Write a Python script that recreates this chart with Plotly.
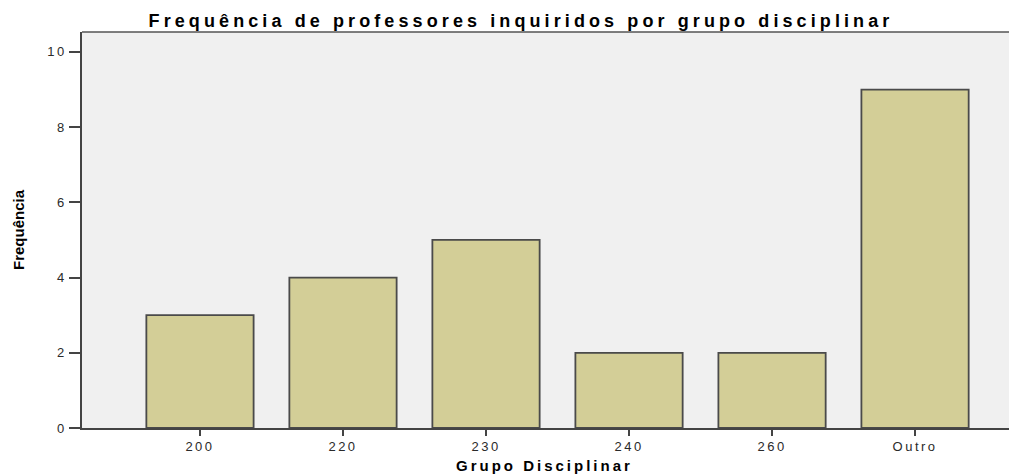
import plotly.graph_objects as go

categories = ["200", "220", "230", "240", "260", "Outro"]
frequencies = [3, 4, 5, 2, 2, 9]
y_ticks = [0, 2, 4, 6, 8, 10]

# page body has an 8px margin; positions below are figure pixels
W, H = 1001, 466
ML, MR, MT, MB = 74, 0, 24, 46


def spaced(s, px):
    return f'<span style="letter-spacing:{px}px">{s}</span>'


fig = go.Figure()
fig.add_trace(go.Bar(
    x=list(range(len(categories))),
    y=frequencies,
    width=0.75,
    marker=dict(color="#D3CE97", line=dict(color="#4A4A4A", width=1.8)),
    hoverinfo="skip",
))

tickfont = dict(family="Liberation Sans, Arial", size=13, color="#2A2A2A")

fig.update_layout(
    width=W, height=H,
    margin=dict(l=ML, r=MR, t=MT, b=MB, pad=0),
    paper_bgcolor="white",
    plot_bgcolor="#F0F0F0",
    showlegend=False,
    title=dict(
        text="<b>" + spaced("Frequência de professores inquiridos por grupo disciplinar", 4.1) + "</b>",
        font=dict(family="Liberation Sans, Arial", size=18, color="black"),
        x=513 / W, xanchor="center",
        y=1 - 13 / H, yanchor="middle",
    ),
    xaxis=dict(
        tickmode="array",
        tickvals=list(range(len(categories))),
        ticktext=[spaced(c, 2.5) for c in categories],
        range=[-0.825, 5.657],
        showgrid=False, zeroline=False,
        showline=True, linecolor="#444444", linewidth=1.5,
        ticks="outside", ticklen=6, tickwidth=1.5, tickcolor="#444444",
        tickfont=tickfont,
    ),
    yaxis=dict(
        range=[0, 10.53],
        tickmode="array",
        tickvals=y_ticks,
        ticktext=[spaced(str(v), 2.5) for v in y_ticks],
        showgrid=False, zeroline=False,
        showline=True, linecolor="#444444", linewidth=1.5,
        ticks="outside", ticklen=11, tickwidth=1.5, tickcolor="#444444",
        tickfont=tickfont,
    ),
    shapes=[
        dict(type="line", xref="paper", yref="paper", x0=0, x1=1, y0=1, y1=1,
             line=dict(color="#555555", width=1.5)),
    ],
    annotations=[
        dict(text="<b>" + spaced("Grupo Disciplinar", 3) + "</b>", xref="paper", yref="paper",
             x=(536 - ML) / (W - ML - MR), y=0, xanchor="center", yanchor="middle",
             yshift=-(457 - (H - MB)), showarrow=False,
             font=dict(family="Liberation Sans, Arial", size=15, color="black")),
        dict(text="<b>Frequência</b>", xref="paper", yref="paper",
             x=0, y=0.5, xanchor="center", yanchor="middle",
             xshift=-(ML - 10), textangle=-90, showarrow=False,
             font=dict(family="Liberation Sans, Arial", size=15, color="black")),
    ],
)

fig.write_html("out.html")
